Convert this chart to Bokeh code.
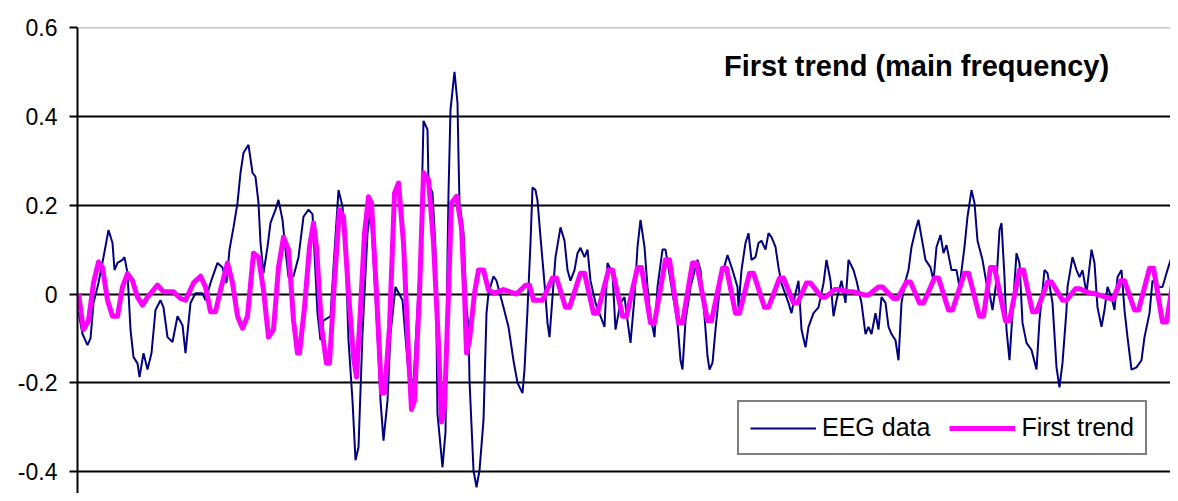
from bokeh.plotting import figure
from bokeh.models import Range1d, FixedTicker, Span, Label, Legend, LegendItem
from bokeh.embed import file_html
from bokeh.resources import INLINE

# ---- data (sample index, amplitude) ----
eeg_x = [1, 5, 10, 13, 16, 21, 26, 31, 35, 37, 40, 45, 47, 50, 53, 56, 60, 62, 66, 70, 74, 78, 83, 86,
         90, 95, 100, 105, 108, 113, 118, 125, 128, 133, 140, 145, 149, 152, 156, 160, 163, 166, 171, 175,
         178, 181, 183, 186, 190, 193, 198, 201, 205, 208, 211, 216, 221, 226, 231, 235, 236, 240, 243, 246,
         253, 256, 261, 265, 268, 271, 275, 278, 281, 285, 290, 293, 296, 300, 303, 306, 310, 313, 318, 325,
         331, 336, 343, 346, 350, 351, 355, 358, 360, 365, 368, 370, 371, 373, 377, 380, 381, 382, 386, 389,
         391, 392, 396, 399, 402, 406, 409, 411, 416, 419, 426, 431, 436, 440, 445, 447, 450, 453, 455, 458,
         460, 463, 467, 470, 472, 475, 478, 483, 487, 490, 493, 497, 500, 503, 507, 510, 513, 518, 523, 527,
         530, 535, 538, 543, 547, 550, 553, 557, 560, 563, 567, 570, 573, 577, 580, 585, 588, 593, 600, 603,
         605, 608, 613, 620, 623, 627, 630, 632, 635, 638, 643, 650, 655, 660, 661, 664, 668, 671, 674, 678,
         681, 684, 688, 691, 694, 698, 701, 704, 711, 714, 718, 721, 724, 728, 731, 736, 741, 746, 749, 753,
         756, 759, 764, 768, 771, 776, 779, 784, 788, 791, 794, 798, 801, 804, 808, 811, 814, 818, 821, 824,
         828, 831, 834, 838, 841, 844, 848, 853, 856, 859, 863, 866, 869, 874, 879, 882, 887, 890, 894, 897,
         900, 905, 909, 912, 915, 919, 922, 924, 927, 929, 932, 935, 939, 942, 945, 949, 954, 959, 962, 967,
         970, 975, 979, 982, 985, 989, 990, 995, 999, 1002, 1005, 1009, 1014, 1017, 1020, 1024, 1027, 1030,
         1034, 1037, 1040, 1044, 1047, 1050, 1054, 1059, 1064, 1067, 1072, 1075, 1082, 1085, 1089, 1094,
         1099, 1101]
eeg_y = [-0.04, -0.09, -0.115, -0.10, -0.02, 0.025, 0.083, 0.144, 0.115, 0.054, 0.07, 0.077, 0.083, 0.047,
         -0.08, -0.142, -0.156, -0.187, -0.133, -0.17, -0.133, -0.036, -0.014, -0.03, -0.097, -0.108, -0.05,
         -0.07, -0.133, -0.02, 0.002, 0.002, -0.014, 0.025, 0.07, 0.06, 0.025, 0.10, 0.15, 0.205, 0.273,
         0.318, 0.336, 0.273, 0.264, 0.205, 0.115, 0.047, 0.106, 0.16, 0.19, 0.212, 0.167, 0.10, 0.038,
         0.04, 0.083, 0.174, 0.19, 0.18, 0.137, -0.043, -0.104, -0.06, -0.05, 0.06, 0.234, 0.197, 0.10,
         -0.104, -0.24, -0.374, -0.345, -0.089, 0.137, 0.19, 0.077, -0.089, -0.24, -0.33, -0.24, -0.089,
         0.016, -0.014, -0.18, -0.20, 0.092, 0.39, 0.37, 0.25, 0.228, 0.10, -0.27, -0.39, -0.31, 0.083,
         0.227, 0.415, 0.50, 0.43, 0.31, 0.205, 0.137, -0.03, -0.074, -0.194, -0.397, -0.435, -0.397,
         -0.284, -0.043, 0.002, 0.04, 0.03, -0.03, -0.074, -0.15, -0.20, -0.223, -0.17, -0.036, 0.115,
         0.24, 0.234, 0.21, 0.128, 0.024, -0.065, -0.097, -0.007, 0.083, 0.15, 0.12, 0.054, 0.03, 0.054,
         0.092, 0.104, 0.083, 0.10, 0.03, -0.02, -0.05, -0.074, 0.07, 0.047, -0.08, -0.02, -0.007, -0.06,
         -0.11, -0.007, 0.106, 0.167, 0.106, 0.016, -0.05, -0.097, 0.016, 0.10, 0.10, 0.03, -0.065,
         -0.149, -0.17, -0.06, 0.016, 0.077, 0.054, -0.05, -0.14, -0.17, -0.155, -0.08, 0.03, 0.088,
         0.054, 0.016, -0.03, 0.054, 0.115, 0.137, 0.077, 0.083, 0.115, 0.12, 0.10, 0.137, 0.128, 0.106,
         0.06, 0.024, -0.02, -0.043, 0.002, 0.03, -0.08, -0.12, -0.074, -0.043, -0.03, 0.024, 0.077, 0.03,
         -0.05, -0.014, 0.03, -0.02, 0.077, 0.054, 0.03, -0.02, -0.09, -0.074, -0.09, -0.043, -0.08,
         -0.007, -0.02, -0.074, -0.09, -0.104, -0.149, -0.02, 0.03, 0.054, 0.106, 0.144, 0.167, 0.128,
         0.077, 0.06, 0.03, 0.106, 0.133, 0.092, 0.11, 0.054, 0.054, 0.016, 0.106, 0.174, 0.234, 0.205,
         0.12, 0.077, 0.024, 0.002, -0.036, 0.03, 0.144, 0.16, 0.038, -0.08, -0.149, -0.043, 0.092, 0.07,
         -0.065, -0.11, -0.126, -0.17, -0.059, 0.054, 0.047, -0.02, -0.165, -0.21, -0.155, -0.036, 0.016,
         0.083, 0.054, 0.038, 0.054, 0.002, 0.10, 0.07, -0.03, -0.074, -0.036, 0.016, -0.007, -0.036,
         0.038, 0.054, -0.036, -0.097, -0.17, -0.165, -0.149, -0.097, -0.043, 0.03, 0.016, 0.016, 0.047,
         0.083, 0.128, 0.14]

trend_x = [1, 6, 11, 16, 21, 25, 30, 35, 40, 45, 50, 55, 60, 65, 70, 80, 86, 96, 103, 108, 116, 123, 128,
           133, 138, 143, 150, 155, 160, 165, 170, 176, 181, 186, 191, 196, 201, 206, 211, 216, 220, 222,
           227, 232, 236, 239, 244, 249, 252, 257, 262, 266, 271, 276, 279, 282, 287, 291, 294, 299, 304,
           307, 312, 317, 321, 326, 331, 334, 337, 342, 346, 351, 356, 361, 364, 367, 371, 374, 379, 384,
           387, 389, 392, 397, 401, 406, 411, 417, 426, 439,
           448, 452, 456, 458, 461, 465, 475, 479, 488, 492, 503, 507, 516, 520, 531, 535, 545, 549,
           560, 564, 573, 577, 588, 592, 601, 605, 615, 619, 630, 634, 645, 649, 658, 662, 672, 676,
           687, 691, 702, 706, 716, 720, 729, 733, 744, 748, 757, 761, 772, 776, 787, 791, 801, 805,
           816, 820, 829, 833, 842, 846, 857, 861, 871, 875, 887, 891, 902, 906, 913, 917, 928, 932,
           942, 946, 955, 959, 970, 974, 985, 989, 998, 1002, 1012, 1016, 1032, 1036, 1043, 1047,
           1057, 1061, 1072, 1076, 1085, 1089, 1099, 1101]
trend_y = [0.0, -0.08, -0.06, 0.025, 0.072, 0.06, -0.014, -0.05, -0.05, 0.016, 0.046, 0.03, -0.007,
           -0.025, -0.007, 0.02, 0.005, 0.005, -0.01, -0.014, 0.025, 0.04, 0.016, -0.04, -0.04, 0.009,
           0.07, 0.025, -0.05, -0.077, -0.05, 0.092, 0.083, 0.009, -0.097, -0.08, 0.06, 0.128, 0.10,
           -0.059, -0.133, -0.133, -0.03, 0.106, 0.16, 0.106, -0.074, -0.156, -0.156, 0.03, 0.19, 0.174,
           0.002, -0.142, -0.187, -0.074, 0.137, 0.219, 0.205, 0.002, -0.223, -0.223, -0.074, 0.227, 0.25,
           0.115, -0.133, -0.26, -0.24, 0.002, 0.273, 0.257, 0.115, -0.111, -0.288, -0.255, 0.002, 0.205,
           0.22, 0.15, 0.002, -0.133, -0.104, 0.002, 0.054, 0.054, 0.009, 0.002, 0.01, 0.0,
           0.02, 0.02, -0.014, -0.014, -0.014, -0.014, 0.036, 0.036, -0.03, -0.03, 0.047, 0.047,
           -0.043, -0.043, 0.054, 0.054, -0.05, -0.05, 0.06, 0.06, -0.065, -0.065, 0.077, 0.077,
           -0.065, -0.065, 0.07, 0.07, -0.06, -0.06, 0.058, 0.058, -0.043, -0.043, 0.047, 0.047,
           -0.03, -0.03, 0.036, 0.036, -0.02, -0.02, 0.025, 0.025, -0.007, -0.007, 0.01, 0.01,
           0.005, 0.005, -0.002, -0.002, 0.016, 0.016, -0.01, -0.01, 0.027, 0.027, -0.02, -0.02,
           0.036, 0.036, -0.036, -0.036, 0.047, 0.047, -0.05, -0.05, 0.06, 0.06, -0.06, -0.06,
           0.054, 0.054, -0.04, -0.04, 0.027, 0.027, -0.014, -0.014, 0.012, 0.012, 0.002, 0.002,
           -0.01, -0.01, 0.03, 0.03, -0.036, -0.036, 0.058, 0.058, -0.063, -0.063, 0.077, 0.077]

y_ticks = [-0.4, -0.2, 0, 0.2, 0.4, 0.6]
y_tick_labels = ["-0.4", "-0.2", "0", "0.2", "0.4", "0.6"]
series_names = ["EEG data", "First trend"]
title_text = "First trend (main frequency)"

FONT = "Liberation Sans"

p = figure(width=1170, height=493, output_backend="svg", toolbar_location=None,
           x_range=Range1d(0, 1093), y_range=Range1d(-0.449, 0.6),
           min_border_left=77, min_border_right=0, min_border_top=27, min_border_bottom=0)
p.outline_line_color = None
p.background_fill_color = "white"
p.border_fill_color = "white"

p.xaxis.visible = False
p.xgrid.visible = False

yax = p.yaxis[0]
yax.ticker = FixedTicker(ticks=y_ticks)
yax.major_label_overrides = {t: s for t, s in zip(y_ticks, y_tick_labels)}
yax.axis_line_color = "black"
yax.axis_line_width = 2
yax.major_tick_line_color = "black"
yax.major_tick_line_width = 2
yax.major_tick_out = 8
yax.major_tick_in = 0
yax.minor_tick_line_color = None
yax.major_label_text_font = FONT
yax.major_label_text_font_size = "23px"
yax.major_label_text_color = "black"
yax.major_label_standoff = 12

p.ygrid.ticker = FixedTicker(ticks=y_ticks[:-1])
p.ygrid.grid_line_color = "black"
p.ygrid.grid_line_width = 2
p.add_layout(Span(location=y_ticks[-1], dimension="width", line_color="#8c8c8c", line_width=1.5))

r_eeg = p.line(eeg_x, eeg_y, line_color="#000080", line_width=2)
r_trend = p.line(trend_x, trend_y, line_color="#ff00ff", line_width=5, line_join="round")

p.add_layout(Label(x=839, y=0.514, text=title_text, text_font=FONT, text_font_size="29px",
                   text_font_style="bold", text_color="black", text_align="center",
                   text_baseline="middle"))

legend = Legend(items=[LegendItem(label=series_names[0], renderers=[r_eeg]),
                       LegendItem(label=series_names[1], renderers=[r_trend])],
                orientation="horizontal", location=(660, 38))
legend.border_line_color = "black"
legend.border_line_width = 2
legend.background_fill_color = "white"
legend.background_fill_alpha = 1
legend.label_text_font = FONT
legend.label_text_font_size = "25px"
legend.label_text_color = "black"
legend.glyph_width = 66
legend.glyph_height = 24
legend.label_height = 24
legend.label_standoff = 6
legend.spacing = 19
legend.padding = 11
legend.margin = 0
p.add_layout(legend, "center")

open("out.html", "w").write(file_html(p, INLINE))
